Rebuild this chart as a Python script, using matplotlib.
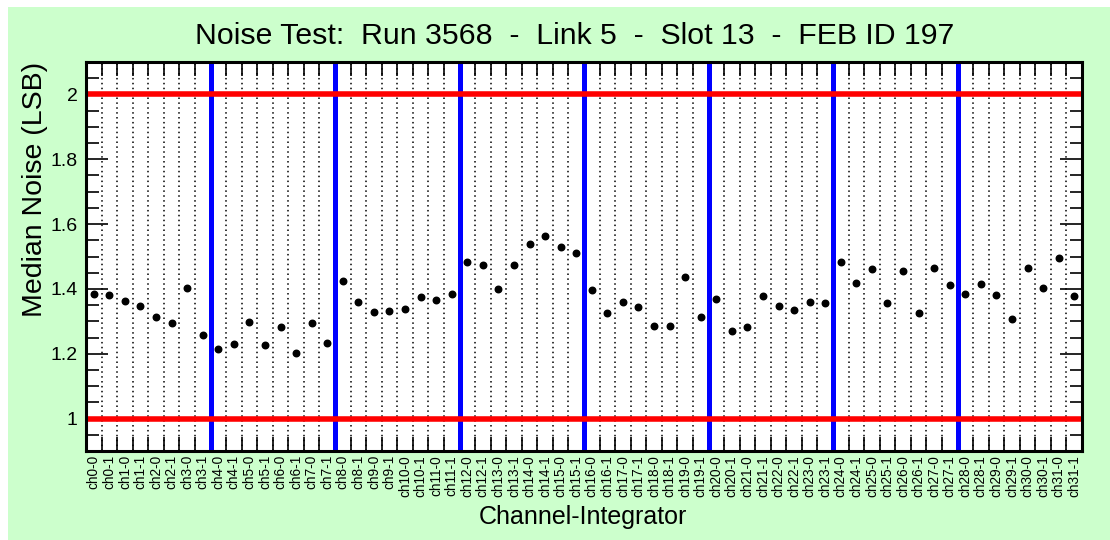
import numpy as np
import matplotlib
matplotlib.use('Agg')
import matplotlib.pyplot as plt
from matplotlib.ticker import MultipleLocator, FixedLocator, NullFormatter

plt.rcParams['font.family'] = ['Liberation Sans', 'DejaVu Sans']

# median noise per channel-integrator (LSB)
labels = ['ch{0}-{1}'.format(ch, integ) for ch in range(32) for integ in (0, 1)]
noise = [1.384, 1.381, 1.363, 1.347, 1.313, 1.296, 1.404, 1.258,
         1.215, 1.230, 1.298, 1.227, 1.281, 1.201, 1.296, 1.234,
         1.425, 1.361, 1.330, 1.333, 1.338, 1.376, 1.366, 1.383,
         1.482, 1.475, 1.401, 1.473, 1.538, 1.563, 1.528, 1.511,
         1.397, 1.325, 1.361, 1.345, 1.287, 1.285, 1.436, 1.312,
         1.369, 1.269, 1.281, 1.377, 1.347, 1.334, 1.360, 1.358,
         1.483, 1.417, 1.462, 1.356, 1.455, 1.326, 1.465, 1.411,
         1.383, 1.416, 1.380, 1.306, 1.463, 1.403, 1.494, 1.377]
limits = [1.0, 2.0]
group_edges = [8, 16, 24, 32, 40, 48, 56]

nbins = len(labels)
x = np.arange(nbins) + 0.5

fig = plt.figure(figsize=(11.1, 5.4), dpi=100)
fig.patch.set_facecolor('white')
# green canvas with a thin white border on the top/left
fig.patches.append(plt.Rectangle((8/1110, 0), 1 - 8/1110, 1 - 7/540,
                                 transform=fig.transFigure, facecolor='#ccffcc',
                                 edgecolor='none', zorder=-10))

ax = fig.add_axes([86/1110, 1 - 451/540, (1082 - 86)/1110, (451 - 62)/540])
ax.set_facecolor('white')

# dotted grid at every bin edge
for e in range(1, nbins):
    ax.axvline(e, color='black', lw=1.1, ls=(0, (1, 2.2)), zorder=1)

for e in group_edges:
    ax.axvline(e, color='#0000ff', lw=3.6, zorder=2)
for lim in limits:
    ax.axhline(lim, color='#ff0000', lw=4.0, zorder=3)

ax.plot(x, noise, 'o', color='black', ms=4.7, zorder=4)

ax.set_xlim(0, nbins)
ax.set_ylim(0.9, 2.1)

# bin edges get the ticks, bin centres get the labels
ax.xaxis.set_major_locator(FixedLocator(np.arange(0, nbins + 1)))
ax.xaxis.set_major_formatter(NullFormatter())
ax.xaxis.set_minor_locator(FixedLocator(x))
ax.set_xticks(x, labels, minor=True, rotation=90, fontsize=9.8)
ax.tick_params(axis='x', which='major', direction='in', length=10, width=1.2,
               top=True, bottom=True)
ax.tick_params(axis='x', which='minor', length=0, pad=3)

ax.yaxis.set_major_locator(MultipleLocator(0.2))
ax.yaxis.set_minor_locator(MultipleLocator(0.05))
ax.yaxis.set_major_formatter(lambda v, pos: '{0:g}'.format(round(v, 2)))
ax.tick_params(axis='y', which='major', direction='in', length=16, width=1.2,
               left=True, right=True, labelsize=14, pad=6)
ax.tick_params(axis='y', which='minor', direction='in', length=9, width=1.2,
               left=True, right=True)

for sp in ax.spines.values():
    sp.set_linewidth(2.2)
    sp.set_zorder(5)

fig.text(575/1110, 1 - 36/540, 'Noise Test:  Run 3568  -  Link 5  -  Slot 13  -  FEB ID 197',
         fontsize=21.8, ha='center', va='center')
fig.text(583/1110, 1 - 517/540, 'Channel-Integrator', fontsize=18, ha='center', va='center')
fig.text(35/1110, 1 - 62/540, 'Median Noise (LSB)', fontsize=20.5, rotation=90,
         ha='center', va='top')

fig.savefig('out.png', dpi=100)
